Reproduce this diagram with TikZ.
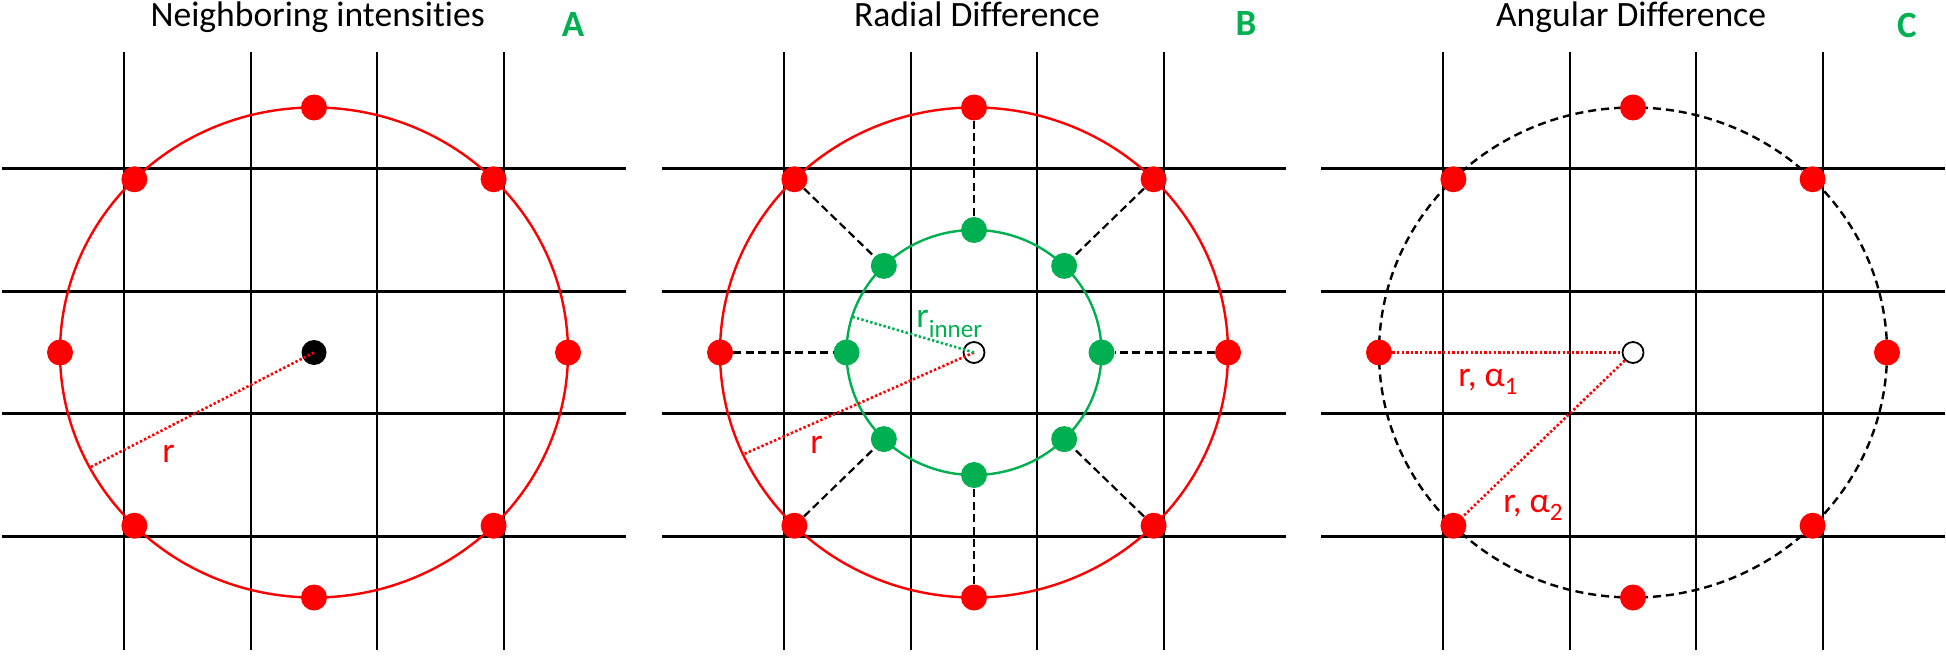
\documentclass[tikz,border=0pt]{standalone}
\usepackage{fontspec}
\setmainfont[Ligatures=NoCommon]{Carlito}
\definecolor{pgreen}{RGB}{0,176,80}
\definecolor{pred}{RGB}{255,0,0}
\begin{document}
\begin{tikzpicture}[x=0.5pt,y=-0.5pt,
  gridline/.style={line width=1.15pt,black},
  ring/.style={line width=1.2pt,pred},
  innerring/.style={line width=1.2pt,pgreen},
  dashring/.style={line width=1.2pt,black,dash pattern=on 4pt off 2.5pt},
  reddot/.style={circle,fill=pred,inner sep=0pt,minimum size=13pt},
  greendot/.style={circle,fill=pgreen,inner sep=0pt,minimum size=13pt},
  blackdot/.style={circle,fill=black,inner sep=0pt,minimum size=12.5pt},
  opendot/.style={circle,draw=black,fill=white,line width=0.9pt,inner sep=0pt,minimum size=10.5pt},
  reddotted/.style={line width=1.3pt,pred,dash pattern=on 1.2pt off 1.1pt},
  greendotted/.style={line width=1.3pt,pgreen,dash pattern=on 1.2pt off 1.1pt},
  blackdash/.style={line width=1.1pt,black,dash pattern=on 4pt off 2.2pt},
  titletext/.style={font=\fontsize{17.8}{20}\selectfont,inner sep=0pt,anchor=base},
  letter/.style={font=\fontsize{18.5}{20}\selectfont\bfseries,text=pgreen,inner sep=0pt,anchor=base},
  lbl/.style={font=\fontsize{17.8}{20}\selectfont,inner sep=0pt,anchor=base west}
]
\useasboundingbox (0,0) rectangle (1946,663);

% grids
\foreach \cx in {314,974,1633}{
  \foreach \dx in {-190,-63,63,190}
    \draw[gridline] (\cx+\dx,52) -- (\cx+\dx,650);
  \foreach \dy in {-184,-61,61,184}
    \draw[gridline] (\cx-312,352.5+\dy) -- (\cx+312,352.5+\dy);
}

% ---------- Panel A ----------
\node[titletext] (tA) at (317.7,27) {Neighboring intensities};
\node[letter] (lA) at (573,36.7) {A};
\coordinate (Ao) at (314,352.5);
\draw[ring] (Ao) ellipse [x radius=127pt, y radius=122.5pt];
\foreach \i in {0,...,7}
  \node[reddot] (A\i) at ({314+254*cos(45*\i)},{352.5-245*sin(45*\i)}) {};
\node[blackdot] (Ac) at (Ao) {};
\coordinate (Ar) at ({314+254*cos(208)},{352.5-245*sin(208)});
\draw[reddotted] (Ac.center) -- (Ar);
\node[lbl,text=pred] (Arl) at (162,462) {r};

% ---------- Panel B ----------
\node[titletext] (tB) at (977,27) {Radial Difference};
\node[letter] (lB) at (1246,35.5) {B};
\coordinate (Bo) at (974,352.5);
\draw[ring] (Bo) ellipse [x radius=127pt, y radius=122.5pt];
\draw[innerring] (Bo) ellipse [x radius=63.75pt, y radius=61.25pt];
\foreach \i in {0,...,7}{
  \node[reddot] (B\i) at ({974+254*cos(45*\i)},{352.5-245*sin(45*\i)}) {};
  \node[greendot] (G\i) at ({974+127.5*cos(45*\i)},{352.5-122.5*sin(45*\i)}) {};
}
\foreach \i in {0,...,7}
  \draw[blackdash] (B\i) -- (G\i);
\node[opendot] (Bc) at (Bo) {};
\coordinate (Br) at ({974+254*cos(204.6)},{352.5-245*sin(204.6)});
\coordinate (Bg) at ({974+127.5*cos(163)},{352.5-122.5*sin(163)});
\draw[reddotted] (Bc.center) -- (Br);
\draw[greendotted] (Bc.center) -- (Bg);
\node[lbl,text=pred] (Brl) at (810,453) {r};
\node[lbl,text=pgreen] (Bgl) at (916,327) {r\raisebox{-5pt}{\fontsize{12.5}{13}\selectfont inner}};

% ---------- Panel C ----------
\node[titletext] (tC) at (1631,27) {Angular Difference};
\node[letter] (lC) at (1907,37.5) {C};
\coordinate (Co) at (1633,352.5);
\draw[dashring] (Co) ellipse [x radius=127pt, y radius=122.5pt];
\foreach \i in {0,...,7}
  \node[reddot] (C\i) at ({1633+254*cos(45*\i)},{352.5-245*sin(45*\i)}) {};
\node[opendot] (Cc) at (Co) {};
\draw[reddotted] (C4) -- (Cc);
\draw[reddotted] (Cc) -- (C5);
\node[lbl,text=pred] (Cl1) at (1458,386) {r, α\raisebox{-4.3pt}{\fontsize{12.5}{13}\selectfont 1}};
\node[lbl,text=pred] (Cl2) at (1503,512) {r, α\raisebox{-4.3pt}{\fontsize{12.5}{13}\selectfont 2}};
\end{tikzpicture}
\end{document}
